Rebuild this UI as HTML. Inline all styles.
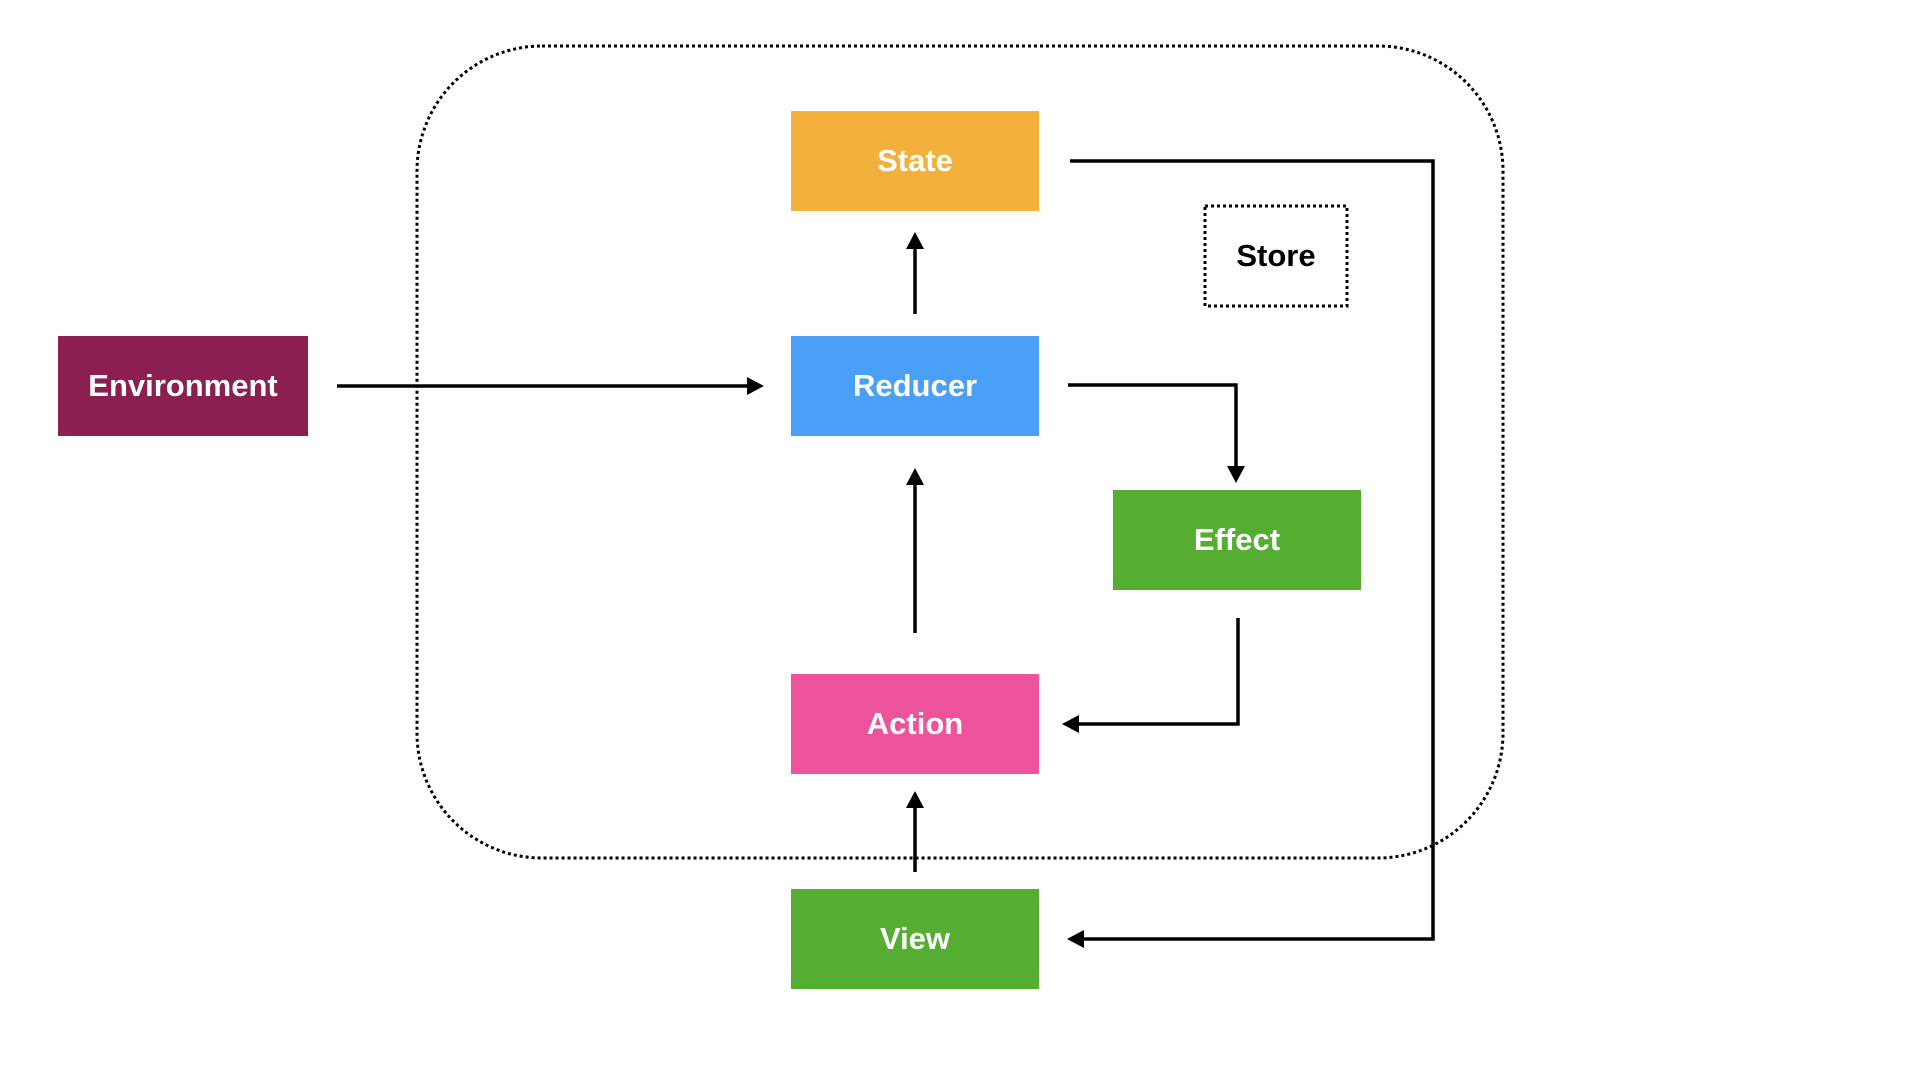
<!DOCTYPE html>
<html><head><meta charset="utf-8"><style>
html,body{margin:0;padding:0;background:#fff;}
body{width:1920px;height:1080px;position:relative;overflow:hidden;font-family:"Liberation Sans",Arial,sans-serif;}
.b{position:absolute;width:248px;height:100px;color:#fff;font-weight:bold;font-size:31px;display:flex;align-items:center;justify-content:center;}
svg{position:absolute;left:0;top:0;}
</style></head><body>
<svg width="1920" height="1080">
<rect x="417" y="46" width="1086" height="812" rx="125" ry="125" fill="none" stroke="#000" stroke-width="3" stroke-dasharray="3 3"/>
<rect x="1205" y="206" width="142" height="100" fill="none" stroke="#000" stroke-width="3" stroke-dasharray="3 3"/>
<g stroke="#000" stroke-width="3.5" fill="none">
<line x1="337" y1="386" x2="750" y2="386"/>
<line x1="915" y1="314" x2="915" y2="245"/>
<line x1="915" y1="633" x2="915" y2="481"/>
<line x1="915" y1="872" x2="915" y2="804"/>
<polyline points="1068,385 1236,385 1236,470"/>
<polyline points="1238,618 1238,724 1076,724"/>
<polyline points="1070,161 1433,161 1433,939 1080,939"/>
</g>
<g fill="#000">
<polygon points="764,386 747,377 747,395"/>
<polygon points="915,232 906,249 924,249"/>
<polygon points="915,468 906,485 924,485"/>
<polygon points="915,791 906,808 924,808"/>
<polygon points="1236,483 1227,466 1245,466"/>
<polygon points="1062,724 1079,715 1079,733"/>
<polygon points="1067,939 1084,930 1084,948"/>
</g>
</svg>
<div class="b" style="left:791px;top:111px;background:#F2B13D;">State</div>
<div class="b" style="left:791px;top:336px;background:#4A9FF6;">Reducer</div>
<div class="b" style="left:58px;top:336px;width:250px;background:#8B1F4F;">Environment</div>
<div class="b" style="left:1113px;top:490px;background:#55AD32;">Effect</div>
<div class="b" style="left:791px;top:674px;background:#EC539C;">Action</div>
<div class="b" style="left:791px;top:889px;background:#55AD32;">View</div>
<div class="b" style="left:1205px;top:206px;width:142px;color:#000;">Store</div>
</body></html>
